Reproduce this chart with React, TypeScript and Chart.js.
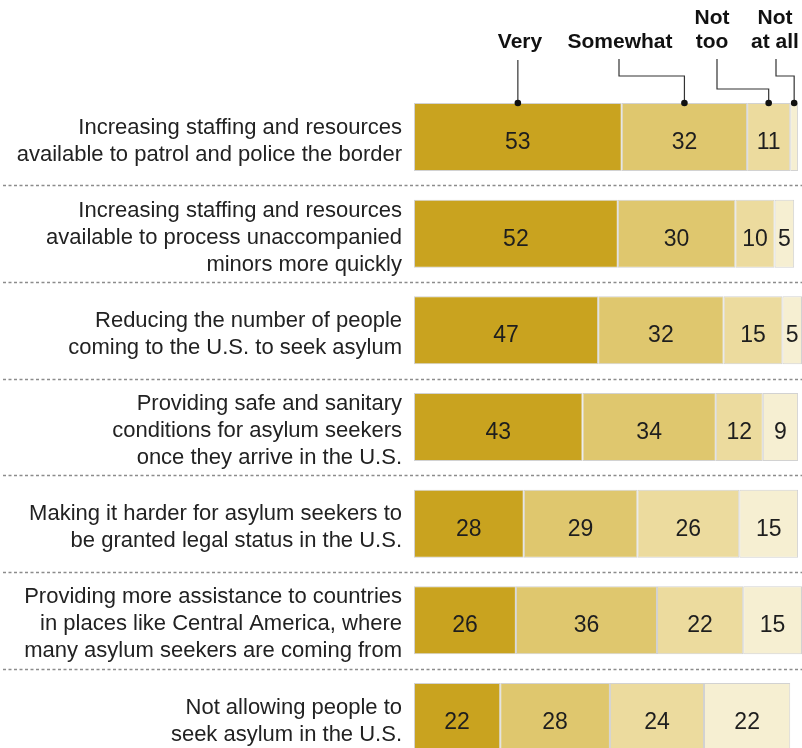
import React, { useEffect, useRef } from "react";
import { Chart, registerables } from "chart.js";

Chart.register(...registerables);

const categories: string[][] = [
  ["Increasing staffing and resources", "available to patrol and police the border"],
  ["Increasing staffing and resources", "available to process unaccompanied", "minors more quickly"],
  ["Reducing the number of people", "coming to the U.S. to seek asylum"],
  ["Providing safe and sanitary", "conditions for asylum seekers", "once they arrive in the U.S."],
  ["Making it harder for asylum seekers to", "be granted legal status in the U.S."],
  ["Providing more assistance to countries", "in places like Central America, where", "many asylum seekers are coming from"],
  ["Not allowing people to", "seek asylum in the U.S."],
];

const seriesNames = ["Very", "Somewhat", "Not too", "Not at all"];
const veryValues = [53, 52, 47, 43, 28, 26, 22];
const somewhatValues = [32, 30, 32, 34, 29, 36, 28];
const notTooValues = [11, 10, 15, 12, 26, 22, 24];
const notAtAllValues = [2, 5, 5, 9, 15, 15, 22];

const colors = ["#c9a31f", "#dfc76e", "#ecdb9e", "#f6efd2"];

const FONT = "'Liberation Sans', Arial, sans-serif";

const separatorPlugin = {
  id: "separators",
  beforeDatasetsDraw(chart: any) {
    const ctx = chart.ctx;
    const y = chart.scales.y;
    ctx.save();
    ctx.strokeStyle = "#8c8c8c";
    ctx.lineWidth = 1.3;
    ctx.setLineDash([3, 2.5]);
    for (let i = 0; i < categories.length - 1; i++) {
      const py = Math.round((y.getPixelForValue(i) + y.getPixelForValue(i + 1)) / 2) + 0.5;
      ctx.beginPath();
      ctx.moveTo(3, py);
      ctx.lineTo(chart.width, py);
      ctx.stroke();
    }
    ctx.restore();
  },
};

const valueLabelPlugin = {
  id: "valueLabels",
  afterDatasetsDraw(chart: any) {
    const ctx = chart.ctx;
    ctx.save();
    ctx.font = `23px ${FONT}`;
    ctx.fillStyle = "#1e1e1e";
    ctx.textAlign = "center";
    ctx.textBaseline = "alphabetic";
    chart.data.datasets.forEach((ds: any, di: number) => {
      const meta = chart.getDatasetMeta(di);
      meta.data.forEach((bar: any, i: number) => {
        const v = ds.data[i];
        if (v < 4) return;
        const cx = (bar.x + bar.base) / 2;
        ctx.fillText(String(v), cx, bar.y + 12);
      });
    });
    ctx.restore();
  },
};

const legendPlugin = {
  id: "calloutLegend",
  afterDraw(chart: any) {
    const ctx = chart.ctx;
    const pts = chart.data.datasets.map((_: any, di: number) => {
      const bar = chart.getDatasetMeta(di).data[0];
      return { x: (bar.x + bar.base) / 2, y: bar.y - bar.height / 2 };
    });
    ctx.save();
    ctx.font = `bold 21px ${FONT}`;
    ctx.fillStyle = "#111";
    ctx.textAlign = "center";
    ctx.textBaseline = "alphabetic";
    ctx.fillText(seriesNames[0], 520, 48);
    ctx.fillText(seriesNames[1], 620, 48);
    ctx.fillText("Not", 712, 24);
    ctx.fillText("too", 712, 48);
    ctx.fillText("Not", 775, 24);
    ctx.fillText("at all", 775, 48);

    ctx.strokeStyle = "#333";
    ctx.lineWidth = 1.2;
    const paths: [number, number, number][] = [
      [pts[0].x, 60, 0],
      [619, 59, 76],
      [717, 59, 89],
      [776, 59, 76],
    ];
    paths.forEach(([sx, sy, ey], i) => {
      const p = pts[i];
      ctx.beginPath();
      ctx.moveTo(sx, sy);
      if (ey) {
        ctx.lineTo(sx, ey);
        ctx.lineTo(p.x, ey);
      }
      ctx.lineTo(p.x, p.y);
      ctx.stroke();
      ctx.beginPath();
      ctx.fillStyle = "#111";
      ctx.arc(p.x, p.y, 3.3, 0, Math.PI * 2);
      ctx.fill();
    });
    ctx.restore();
  },
};

export default function App() {
  const canvasRef = useRef<HTMLCanvasElement>(null);

  useEffect(() => {
    if (!canvasRef.current) return;
    const allValues = [veryValues, somewhatValues, notTooValues, notAtAllValues];
    const chart = new Chart(canvasRef.current, {
      type: "bar",
      data: {
        labels: categories,
        datasets: seriesNames.map((name, i) => ({
          label: name,
          data: allValues[i],
          backgroundColor: colors[i],
          borderColor: "#d2d2d2",
          borderWidth: 1,
          borderSkipped: false,
          categoryPercentage: 1,
          barPercentage: 0.703,
        })),
      },
      options: {
        indexAxis: "y",
        animation: false,
        responsive: false,
        devicePixelRatio: 1,
        layout: { padding: { top: 88.7, bottom: 14.7, left: 0, right: 0 } },
        plugins: {
          legend: { display: false },
          tooltip: { enabled: false },
        },
        scales: {
          x: {
            stacked: true,
            display: false,
            min: 0,
            max: 99,
          },
          y: {
            stacked: true,
            grid: { display: false, drawTicks: false },
            border: { display: false },
            afterFit(scale: any) {
              scale.width = 414;
              scale.paddingTop = 0;
              scale.paddingBottom = 0;
            },
            ticks: {
              padding: 12,
              labelOffset: 4,
              color: "#222",
              font: { family: FONT, size: 22, lineHeight: 1.23 },
            },
          },
        },
      },
      plugins: [separatorPlugin, valueLabelPlugin, legendPlugin],
    });
    return () => chart.destroy();
  }, []);

  return (
    <div
      style={{
        position: "absolute",
        left: 0,
        top: 0,
        width: 802,
        height: 748,
        overflow: "hidden",
        background: "#fff",
      }}
    >
      <canvas ref={canvasRef} width={802} height={780} style={{ display: "block" }} />
    </div>
  );
}
